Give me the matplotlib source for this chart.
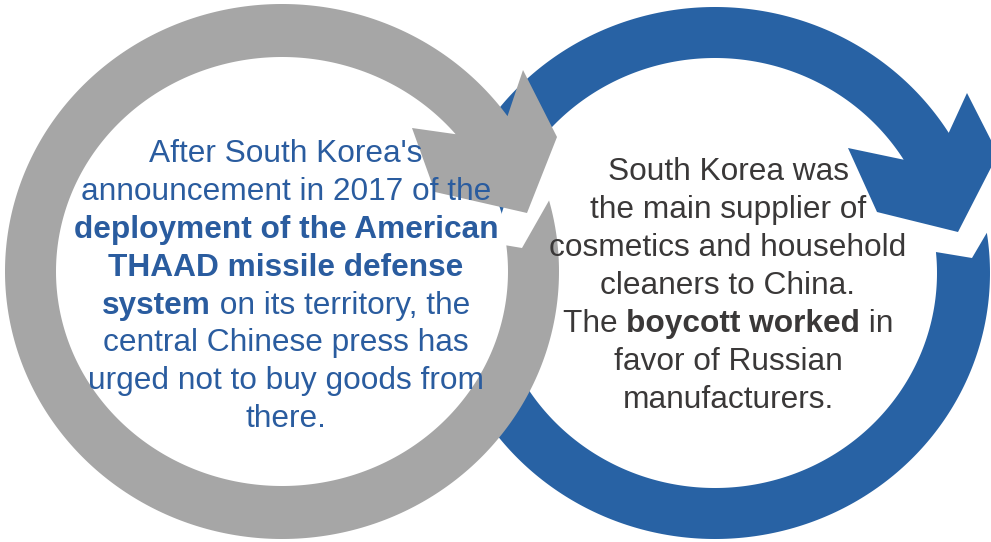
## --- SOUTH KOREA BOYCOTT DIAGRAM --- ##
""" Two circular arrows (grey and blue) with the explaining text inside """

import numpy as np
import matplotlib.pyplot as plt
from matplotlib.patches import Polygon, Ellipse

# -- RING GEOMETRY (pixels, y going down) -- #
# centre x, centre y, outer rx, outer ry, inner rx, inner ry
grey_ring = [282, 271.5, 277, 267.5, 226, 214.5]
blue_ring = [715, 273, 275, 266, 222, 215]
# tail outer angle, tail inner angle, head outer angle, head inner angle (deg)
grey_angles = [15.4, 7.0, 35.5, 39.8]
blue_angles = [8.7, 5.6, 31.8, 31.8]
# arrow head corners: outer barb, outer corner, tip, inner corner, inner barb
grey_head = [(523, 70), (557, 137), (527, 213), (435, 192), (412, 128)]
blue_head = [(967, 93), (998, 154), (958, 232), (877, 212), (848, 148)]
grey_notch = (522, 248)
blue_notch = (972, 258)

grey_col = '#A6A6A6'
blue_col = '#2862A4'
left_col = '#2A5C9F'
right_col = '#3A3838'

# -- TEXT (runs of (text, bold)) -- #
left_lines = [
    [("After South Korea's", False)],
    [("announcement in 2017 of the", False)],
    [("deployment of the American", True)],
    [("THAAD missile defense", True)],
    [("system", True), (" on its territory, the", False)],
    [("central Chinese press has", False)],
    [("urged not to buy goods from", False)],
    [("there.", False)],
]
right_lines = [
    [("South Korea was", False)],
    [("the main supplier of", False)],
    [("cosmetics and household", False)],
    [("cleaners to China.", False)],
    [("The ", False), ("boycott worked", True), (" in", False)],
    [("favor of Russian", False)],
    [("manufacturers.", False)],
]


def ellipse_arc(ring, outer, t0, t1, n=400):
    cx, cy, rxo, ryo, rxi, ryi = ring
    rx, ry = (rxo, ryo) if outer else (rxi, ryi)
    t = np.radians(np.linspace(t0, t1, n))
    return np.column_stack([cx + rx * np.cos(t), cy - ry * np.sin(t)])


def arrow_points(ring, angles, head, notch):
    tail_out, tail_in, head_out, head_in = angles
    outer = ellipse_arc(ring, True, tail_out, head_out - 360)
    inner = ellipse_arc(ring, False, head_in - 360, tail_in)
    return np.vstack([outer, np.array(head), inner, np.array([notch])])


def draw_lines(ax, renderer, lines, xc, y0, dy, color, size):
    fam = ['Liberation Sans', 'DejaVu Sans']

    def width(s, bold):
        w = []
        for txt in ('|' + s + '|', '||'):
            t = ax.text(0, 0, txt, fontsize=size, family=fam,
                        fontweight='bold' if bold else 'normal')
            w.append(t.get_window_extent(renderer).width)
            t.remove()
        return w[0] - w[1]

    for i, runs in enumerate(lines):
        widths = [width(s, b) for s, b in runs]
        x = xc - sum(widths) / 2.0
        for (s, b), w in zip(runs, widths):
            ax.text(x, y0 + i * dy, s, fontsize=size, family=fam, color=color,
                    fontweight='bold' if b else 'normal', ha='left', va='baseline')
            x += w


def main():
    fig = plt.figure(figsize=(9.91, 5.42), dpi=100)
    ax = fig.add_axes([0, 0, 1, 1])
    ax.set_xlim(0, 991)
    ax.set_ylim(542, 0)
    ax.axis('off')

    # -- BLUE ARROW (behind) -- #
    ax.add_patch(Polygon(arrow_points(blue_ring, blue_angles, blue_head, blue_notch),
                         closed=True, facecolor=blue_col, edgecolor='none', zorder=1))
    # -- WHITE INSIDE OF THE GREY RING -- #
    ax.add_patch(Ellipse((grey_ring[0], grey_ring[1]), 2 * grey_ring[4] + 4, 2 * grey_ring[5] + 4,
                         facecolor='white', edgecolor='none', zorder=2))
    # -- GREY ARROW -- #
    ax.add_patch(Polygon(arrow_points(grey_ring, grey_angles, grey_head, grey_notch),
                         closed=True, facecolor=grey_col, edgecolor='none', zorder=3))

    # -- TEXTS -- #
    renderer = fig.canvas.get_renderer()
    draw_lines(ax, renderer, left_lines, 286, 162, 37.9, left_col, 22.8)
    draw_lines(ax, renderer, right_lines, 728, 180, 38, right_col, 22.8)

    fig.savefig('out.png', dpi=100)
    plt.close(fig)


if __name__ == '__main__':
    main()
